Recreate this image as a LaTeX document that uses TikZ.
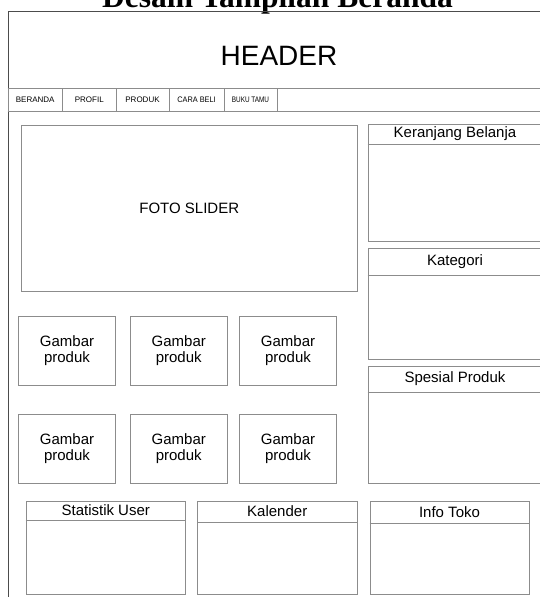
\documentclass[tikz,border=0pt]{standalone}
\usepackage{graphicx}
\usepackage{fontspec}
\setmainfont{Liberation Sans}
\newfontfamily\judulfont{Liberation Serif}
\usetikzlibrary{positioning,fit,calc}
\tikzset{
  frm/.style={draw=black!70, line width=.9pt, inner sep=0pt},
  box/.style={draw=black!45, line width=.8pt, inner sep=0pt},
  lbl/.style={font=\fontsize{15}{16}\selectfont, align=center},
  navlbl/.style={font=\fontsize{8}{9}\selectfont},
}

\begin{document}
\begin{tikzpicture}[x=1pt,y=-1pt]
  \useasboundingbox (0,0) rectangle (539,597);
  % judul (terpotong di atas)
  \node[font=\judulfont\bfseries\fontsize{31.5}{33}\selectfont, anchor=base] (judul) at (277.5,7) {Desain Tampilan Beranda};
  % bingkai halaman + header
  \node[frm, fit={(8,11) (548,620)}] (halaman) {};
  \node[font=\fontsize{28}{30}\selectfont] (header) at (279,56) {HEADER};
  \draw[box] (halaman.west |- 0,88) -- (halaman.east |- 0,88);
  \draw[box] (halaman.west |- 0,111.5) -- (halaman.east |- 0,111.5);
  % menu
  \foreach \nm/\xa/\xb/\sx/\txt in {beranda/8/62.5/1/BERANDA, profil/62.5/116/1/PROFIL,
      produk/116/169/1/PRODUK, carabeli/169/224/.92/CARA BELI, bukutamu/224/277/.8/BUKU TAMU}{
    \node[box, fit={(\xa,88) (\xb,111.5)}] (\nm) {};
    \node[navlbl] (\nm-t) at (\nm) {\scalebox{\sx}[1]{\txt}};
  }
  % slider
  \node[box, lbl, minimum width=335.5pt, minimum height=165.5pt] (slider) at (189.25,208.25) {FOTO SLIDER};
  % gambar produk
  \foreach \c/\x in {1/67, 2/178.75, 3/288}{
    \foreach \r/\y in {1/350.5, 2/448.5}{
      \node[box, lbl, minimum width=97.5pt, minimum height=69pt] (g\r\c) at (\x,\y) {Gambar\\produk};
    }
  }
  % panel samping & bawah
  \foreach \nm/\xa/\ya/\xb/\yb/\yh/\txt in {
      keranjang/368/124/542/241/144/Keranjang Belanja,
      kategori/368/248.5/542/359/275.5/Kategori,
      spesial/368/366/542/483/392/Spesial Produk,
      statistik/26/501/185.5/594/520/Statistik User,
      kalender/197.5/501/357/594/522/Kalender,
      info/370/501/529/594/523/Info Toko}{
    \node[box, fit={(\xa,\ya) (\xb,\yb)}] (\nm) {};
    \draw[box] (\nm.west |- 0,\yh) -- (\nm.east |- 0,\yh);
    \node[lbl] (\nm-t) at ($(\nm.north)!.5!(\nm.north |- 0,\yh)$) {\txt};
  }
\end{tikzpicture}
\end{document}
